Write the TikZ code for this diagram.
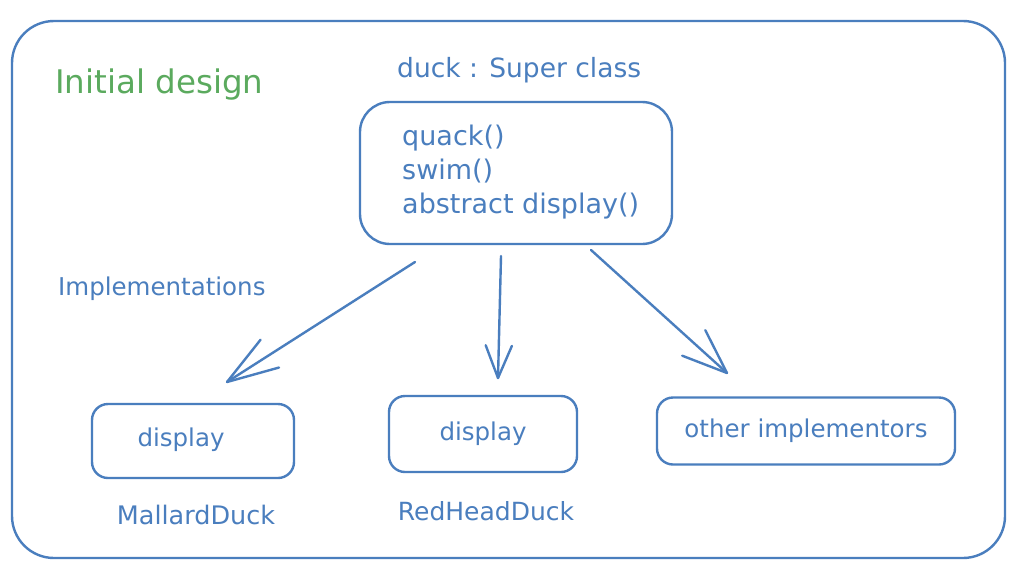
\documentclass[tikz,border=0pt]{standalone}
\usepackage{fontspec}
\setmainfont{DejaVu Sans}
\usetikzlibrary{calc}
\definecolor{skblue}{HTML}{4A7EBE}
\definecolor{skgreen}{HTML}{5BAA5E}
\tikzset{
  x=1pt, y=-1pt,
  frame/.style={draw=skblue, line width=2.4pt, rounded corners=#1, inner sep=0pt},
  txt/.style={text=skblue, font=\fontsize{24.5}{30}\selectfont, inner sep=0pt},
  bigtxt/.style={txt, font=\fontsize{27}{34}\selectfont},
  arr/.style={draw=skblue, line width=2.4pt, line cap=round, line join=round},
}
\begin{document}
\begin{tikzpicture}
\useasboundingbox[fill=white] (0,0) rectangle (1024,570);
% outer frame
\draw[frame=42] (12,21) rectangle (1005,558);
\node[txt, text=skgreen, font=\fontsize{32.5}{36}\selectfont, anchor=base west] (title) at (55,93) {Initial design};
\node[bigtxt, font=\fontsize{26.5}{32}\selectfont, anchor=base west] (superlbl) at (397,77) {duck : Super class};
% super class box
\node[frame=30, minimum width=312pt, minimum height=142pt] (super) at (516,173) {};
\node[bigtxt, anchor=base west] (m1) at (402,145) {quack()};
\node[bigtxt, anchor=base west] (m2) at (402,179) {swim()};
\node[bigtxt, anchor=base west] (m3) at (402,213) {abstract display()};
\node[txt, anchor=base west] (impl) at (58,295) {Implementations};
% implementation boxes
\node[frame=16, minimum width=202pt, minimum height=74pt] (b1) at (193,441) {};
\node[txt] (t1) at (181,440) {display};
\node[frame=16, minimum width=188pt, minimum height=76pt, txt] (b2) at (483,434) {display};
\node[frame=16, minimum width=298pt, minimum height=67pt, txt] (b3) at (806,431) {other implementors};
\node[txt, font=\fontsize{25.5}{30}\selectfont] (l1) at (196,515) {MallardDuck};
\node[txt, font=\fontsize{25}{30}\selectfont] (l2) at (486,511) {RedHeadDuck};
% arrows
\coordinate (a1s) at (415,262); \coordinate (a1e) at (227,382);
\coordinate (a2s) at (501,256); \coordinate (a2e) at (498,378);
\coordinate (a3s) at (591,250); \coordinate (a3e) at (727,373);
\draw[arr] (a1s) -- (a1e);
\draw[arr] ($(a1e)!54pt!19:(a1s)$) -- (a1e) -- ($(a1e)!54pt!-17:(a1s)$);
\draw[arr] (a2s) -- (a2e);
\draw[arr] ($(a2e)!35pt!22:(a2s)$) -- (a2e) -- ($(a2e)!35pt!-22:(a2s)$);
\draw[arr] (a3s) -- (a3e);
\draw[arr] ($(a3e)!48pt!21:(a3s)$) -- (a3e) -- ($(a3e)!48pt!-21:(a3s)$);
\end{tikzpicture}
\end{document}
